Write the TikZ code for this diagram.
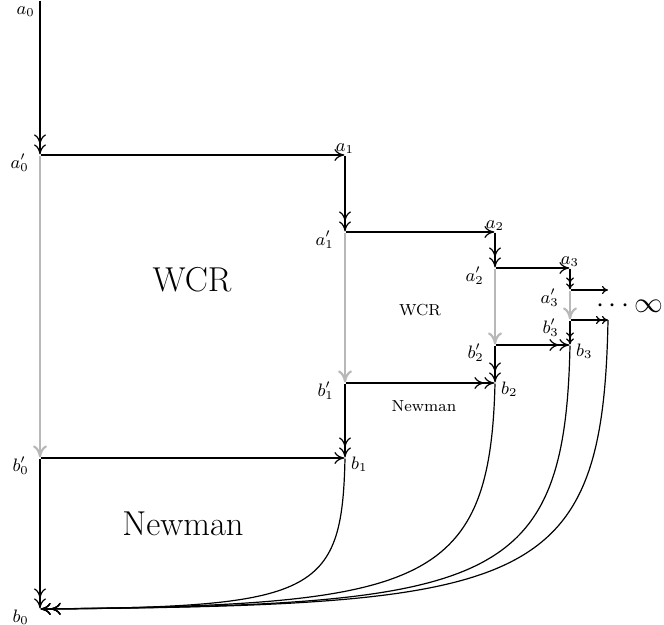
\documentclass[tikz,border=0pt]{standalone}
\usetikzlibrary{arrows.meta}
\usetikzlibrary{positioning}

\begin{document}
\begin{tikzpicture}[x=0.5pt, y=-0.5pt, line width=0.6pt,
  >={Computer Modern Rightarrow[length=5pt,width=6pt]},
  every label/.style={font=\small, inner sep=1pt},
  pt/.style={inner sep=0pt, minimum size=0pt},
  lft/.style={label={[label distance=4pt, yshift=-4pt]left:#1}},
  rgt/.style={label={[label distance=1.5pt, yshift=-3pt]right:#1}},
  top/.style={label={[label distance=-1pt]above:#1}},
  wcr step/.style={->, draw=black!28, line width=1.1pt,
    >={Computer Modern Rightarrow[length=6pt,width=7pt]}},
  small tips/.style={>={Computer Modern Rightarrow[length=3pt,width=4pt]}}]

  \useasboundingbox (0,0) rectangle (664,625);

  % first square
  \node[pt, label={[label distance=1pt, yshift=-6pt]left:$a_0$}] (a0) at (40,0) {};
  \node[pt, lft=$a'_0$] (a0p) at (40,155) {};
  \node[pt, top=$a_1$] (a1) at (345,155) {};
  \node[pt, lft=$a'_1$] (a1p) at (345,232) {};
  \node[pt, lft=$b'_0$] (b0p) at (40,458) {};
  \node[pt, rgt=$b_1$] (b1) at (345,458) {};
  \node[pt, lft=$b_0$] (b0) at (40,609) {};
  % second square
  \node[pt, lft=$b'_1$] (b1p) at (345,383) {};
  \node[pt, top=$a_2$] (a2) at (495,232) {};
  \node[pt, lft=$a'_2$] (a2p) at (495,268) {};
  \node[pt, lft=$b'_2$] (b2p) at (495,345) {};
  \node[pt, rgt=$b_2$] (b2) at (495,383) {};
  % third square
  \node[pt, top=$a_3$] (a3) at (570,268) {};
  \node[pt, lft=$a'_3$] (a3p) at (570,290) {};
  \node[pt, lft=$b'_3$] (b3p) at (570,320) {};
  \node[pt, rgt=$b_3$] (b3) at (570,345) {};
  \coordinate (a4) at (608,290);
  \coordinate (b4) at (608,320);

  \node[font=\LARGE] (wcr0) at (192,280) {WCR};
  \node[font=\footnotesize] (wcr1) at (420,310) {WCR};
  \node[font=\LARGE] (nm0) at (183,524) {Newman};
  \node[font=\footnotesize] (nm1) at (424,406) {Newman};
  \node[font=\Large, anchor=east, inner sep=0pt] (inf) at (664,306) {$\cdots\infty$};

  \draw[wcr step] (a0p) -- (b0p);
  \draw[wcr step] (a1p) -- (b1p);
  \draw[wcr step] (a2p) -- (b2p);
  \draw[wcr step] (a3p) -- (b3p);

  \draw[->>] (a0) -- (a0p);
  \draw[->] (a0p) -- (a1);
  \draw[->>] (a1) -- (a1p);
  \draw[->] (a1p) -- (a2);
  \draw[->>] (a2) -- (a2p);
  \draw[->] (a2p) -- (a3);
  \draw[->>, small tips] (a3) -- (a3p);
  \draw[->, small tips] (a3p) -- (a4);

  \draw[->] (b0p) -- (b1);
  \draw[->>] (b0p) -- (b0);
  \draw[->>] (b1p) -- (b1);
  \draw[->>] (b1p) -- (b2);
  \draw[->>] (b2p) -- (b2);
  \draw[->>] (b2p) -- (b3);
  \draw[->>, small tips] (b3p) -- (b3);
  \draw[->>, small tips] (b3p) -- (b4);

  % back to b0
  \draw[->>] (b1) .. controls (342,595) and (315,607) .. (b0);
  \draw[->>] (b2) .. controls (490,590) and (420,605) .. (b0);
  \draw[->>] (b3) .. controls (565,590) and (490,605) .. (b0);
  \draw[->>] (b4) .. controls (603,590) and (530,605) .. (b0);
\end{tikzpicture}
\end{document}
